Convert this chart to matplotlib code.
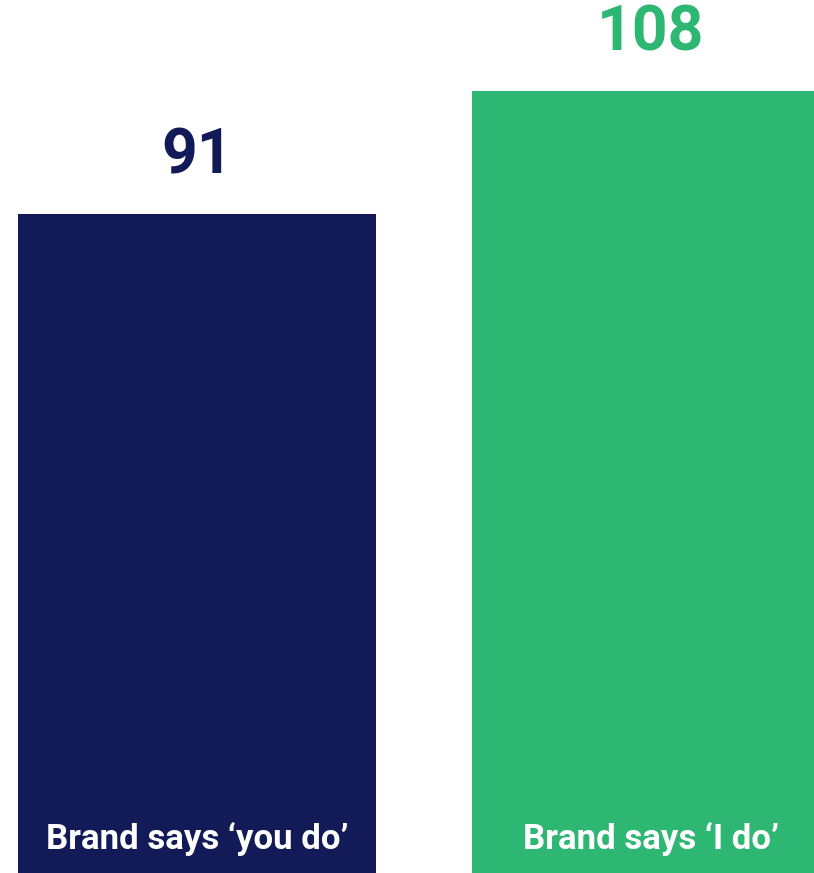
import matplotlib
matplotlib.use("Agg")
import matplotlib.pyplot as plt

categories = ["Brand says \u2018you do\u2019", "Brand says \u2018I do\u2019"]
values = [91, 108]
colors = ["#121A57", "#2EB673"]

fig = plt.figure(figsize=(8.14, 8.73), dpi=100)
ax = fig.add_axes([0, 0, 1, 1])

x = range(len(values))
ax.bar(x, values, width=0.789, color=colors)

for i, v in enumerate(values):
    # value above bar
    ax.annotate(str(v), (i, v), xytext=(0, 29), textcoords="offset points",
                ha="center", va="baseline", fontsize=45, fontweight="bold",
                family="Roboto", color=colors[i])
    # category label inside bar bottom
    ax.annotate(categories[i], (i, 0), xytext=(0, 17), textcoords="offset points",
                ha="center", va="baseline", fontsize=25, fontweight="bold",
                family="Roboto", color="white")

ax.set_xlim(-0.4339, 1.359)
ax.set_ylim(0, 120.5)
ax.axis("off")

fig.savefig("out.png", dpi=100)
